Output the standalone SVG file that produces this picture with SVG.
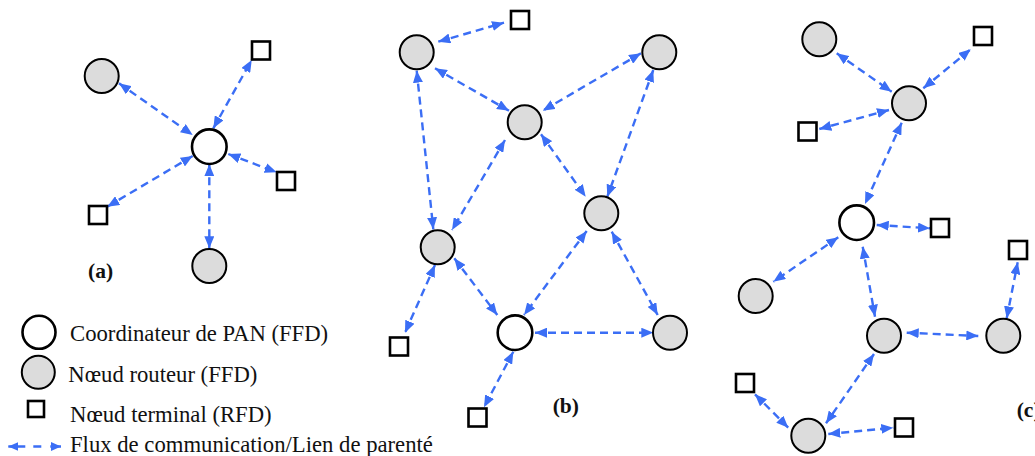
<svg xmlns="http://www.w3.org/2000/svg" width="1035" height="456" viewBox="0 0 1035 456">
<defs>
<marker id="ah" markerUnits="userSpaceOnUse" markerWidth="12" markerHeight="10" viewBox="0 0 12 10" refX="12" refY="5" orient="auto-start-reverse">
<path d="M0,0 L12,5 L0,10 z" fill="#3b6ef5"/>
</marker>
<marker id="ahs" markerUnits="userSpaceOnUse" markerWidth="10" markerHeight="9" viewBox="0 0 10 9" refX="10" refY="4.5" orient="auto-start-reverse">
<path d="M0,0 L10,4.5 L0,9 z" fill="#3b6ef5"/>
</marker>
</defs>
<style>
.coord{fill:#ffffff;stroke:#000;stroke-width:2.6}
.router{fill:#dcdcdc;stroke:#000;stroke-width:2}
.term{fill:#ffffff;stroke:#000;stroke-width:2.6}
.link{stroke:#3b6ef5;stroke-width:2.4;stroke-dasharray:8,5;fill:none;marker-start:url(#ah);marker-end:url(#ah)}
.lbl{font-family:"Liberation Serif","Times New Roman",serif;font-size:21.5px;font-weight:bold;fill:#111}
.leg{font-family:"Liberation Serif","Times New Roman",serif;font-size:22.7px;fill:#111}
</style>
<rect width="1035" height="456" fill="#ffffff"/>

<g id="connectors">
<!-- (a) -->
<line class="link" x1="119" y1="83.3" x2="192.7" y2="135"/>
<line class="link" x1="213.3" y1="128.3" x2="251.7" y2="60"/>
<line class="link" x1="228.3" y1="154" x2="276.7" y2="172.3"/>
<line class="link" x1="192.7" y1="156" x2="107.3" y2="206.7"/>
<line class="link" x1="209.3" y1="164.3" x2="209.3" y2="248.3"/>
<!-- (b) -->
<line class="link" x1="438.3" y1="41.7" x2="504" y2="22.7"/>
<line class="link" x1="435" y1="68.3" x2="509" y2="110.7"/>
<line class="link" x1="641" y1="53.3" x2="542.7" y2="110.7"/>
<line class="link" x1="416.7" y1="70.7" x2="433.3" y2="229.3"/>
<line class="link" x1="505" y1="140" x2="452" y2="230"/>
<line class="link" x1="541" y1="134.3" x2="585.7" y2="196.7"/>
<line class="link" x1="653.3" y1="70" x2="607.3" y2="196.7"/>
<line class="link" x1="454.3" y1="258.3" x2="497.3" y2="315"/>
<line class="link" x1="586.7" y1="231" x2="524" y2="315"/>
<line class="link" x1="611.7" y1="231.7" x2="657.7" y2="315"/>
<line class="link" x1="535" y1="332.7" x2="653.3" y2="332.7"/>
<line class="link" x1="435" y1="265" x2="405" y2="332.7"/>
<line class="link" x1="513.3" y1="351.7" x2="484" y2="407.3"/>
<!-- (c) -->
<line class="link" x1="836.7" y1="53.3" x2="891.7" y2="91.7"/>
<line class="link" x1="923.3" y1="88.3" x2="970.7" y2="49.3"/>
<line class="link" x1="889" y1="110" x2="819.3" y2="129"/>
<line class="link" x1="901.7" y1="122.7" x2="865" y2="204"/>
<line class="link" x1="876.7" y1="225" x2="930" y2="228.3"/>
<line class="link" x1="838.3" y1="237.3" x2="773.3" y2="281.7"/>
<line class="link" x1="862.7" y1="246.7" x2="875" y2="316.7"/>
<line class="link" x1="906.7" y1="332.7" x2="978.3" y2="336"/>
<line class="link" x1="1006.7" y1="318.3" x2="1017.7" y2="262.3"/>
<line class="link" x1="874" y1="354" x2="826" y2="423.3"/>
<line class="link" x1="755" y1="394.3" x2="788.3" y2="427.7"/>
<line class="link" x1="828.3" y1="434" x2="893.3" y2="427.7"/>
</g>

<!-- (a) nodes -->
<g id="a-router-1"><circle class="router" cx="101.7" cy="76" r="17"/></g>
<g id="a-coord"><circle class="coord" cx="209.3" cy="146.7" r="17.3"/></g>
<g id="a-term-1"><rect class="term" x="252" y="41.5" width="18" height="18"/></g>
<g id="a-term-2"><rect class="term" x="277" y="172" width="18" height="18"/></g>
<g id="a-term-3"><rect class="term" x="89" y="206" width="18" height="18"/></g>
<g id="a-router-2"><circle class="router" cx="209.3" cy="266" r="17"/></g>
<text class="lbl" x="88" y="278">(a)</text>

<!-- (b) nodes -->
<g id="b-term-1"><rect class="term" x="511" y="11" width="18" height="18"/></g>
<g id="b-router-1"><circle class="router" cx="416.7" cy="52.3" r="17"/></g>
<g id="b-router-2"><circle class="router" cx="659.3" cy="52.3" r="17"/></g>
<g id="b-router-3"><circle class="router" cx="524.7" cy="122.3" r="17"/></g>
<g id="b-router-4"><circle class="router" cx="601.3" cy="213.3" r="17"/></g>
<g id="b-router-5"><circle class="router" cx="437.7" cy="247.3" r="17"/></g>
<g id="b-coord"><circle class="coord" cx="515" cy="332.7" r="17.3"/></g>
<g id="b-router-6"><circle class="router" cx="670" cy="332.7" r="17"/></g>
<g id="b-term-2"><rect class="term" x="390" y="337.5" width="18" height="18"/></g>
<g id="b-term-3"><rect class="term" x="468.5" y="408.5" width="18" height="18"/></g>
<text class="lbl" x="552.7" y="413.3">(b)</text>

<!-- (c) nodes -->
<g id="c-router-1"><circle class="router" cx="819.3" cy="39.3" r="17"/></g>
<g id="c-term-1"><rect class="term" x="974" y="27" width="18" height="18"/></g>
<g id="c-router-2"><circle class="router" cx="909" cy="103.3" r="17"/></g>
<g id="c-term-2"><rect class="term" x="798.5" y="122.5" width="18" height="18"/></g>
<g id="c-coord"><circle class="coord" cx="856.7" cy="222.7" r="17.3"/></g>
<g id="c-term-3"><rect class="term" x="931" y="219" width="18" height="18"/></g>
<g id="c-term-4"><rect class="term" x="1009" y="241" width="18" height="18"/></g>
<g id="c-router-3"><circle class="router" cx="755.7" cy="296" r="17"/></g>
<g id="c-router-4"><circle class="router" cx="884" cy="335.7" r="17"/></g>
<g id="c-router-5"><circle class="router" cx="1003.3" cy="335.7" r="17"/></g>
<g id="c-term-5"><rect class="term" x="736" y="374" width="18" height="18"/></g>
<g id="c-router-6"><circle class="router" cx="808.3" cy="435.7" r="17"/></g>
<g id="c-term-6"><rect class="term" x="895" y="418.5" width="18" height="18"/></g>
<text class="lbl" x="1016.7" y="416.7">(c)</text>

<!-- legend -->
<g id="legend">
<circle class="coord" cx="39" cy="332.3" r="16.5"/>
<text class="leg" x="70" y="341">Coordinateur de PAN (FFD)</text>
<circle class="router" cx="38.3" cy="372.3" r="16.5"/>
<text class="leg" x="68.3" y="381.7">Nœud routeur (FFD)</text>
<rect class="term" x="28" y="401" width="16" height="16"/>
<text class="leg" x="70" y="421.7">Nœud terminal (RFD)</text>
<line x1="8.3" y1="446.5" x2="61" y2="446.5" stroke="#3b6ef5" stroke-width="2.4" stroke-dasharray="17,8,8,9,30" marker-start="url(#ahs)" marker-end="url(#ahs)"/>
<text class="leg" x="70" y="452">Flux de communication/Lien de parenté</text>
</g>
</svg>
